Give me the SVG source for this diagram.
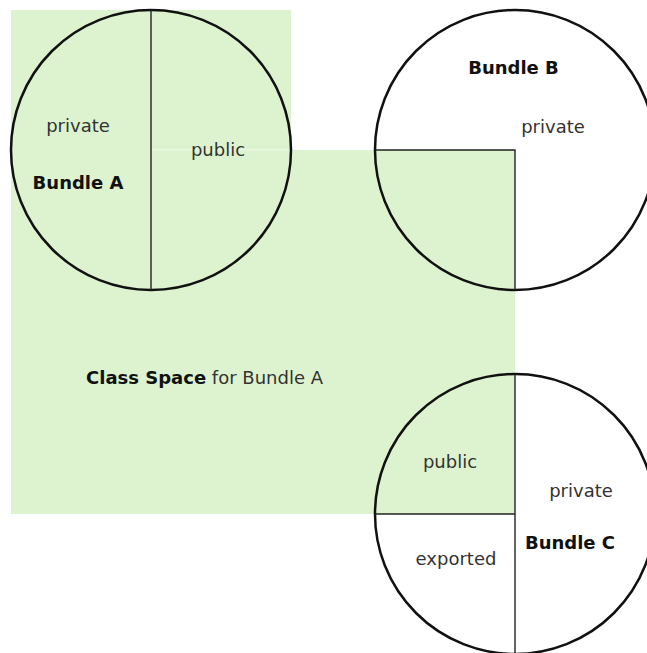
<svg xmlns="http://www.w3.org/2000/svg" width="647" height="653" viewBox="0 0 647 653">
<style>
.circle{fill:none;stroke:#111;stroke-width:2.5}
.div{stroke:#222;stroke-width:1.4;fill:none}
.t{font-family:"DejaVu Sans",sans-serif;font-size:18px;fill:#333}
.b{font-weight:bold;fill:#111}
</style>
<rect width="647" height="653" fill="#fff"/>
<g id="classSpace">
<path d="M11 10 H291 V150 H515 V514 H11 Z" fill="#ddf3cf"/>
<line x1="152" y1="150" x2="291" y2="150" stroke="#ecf8e4" stroke-width="1"/>
<text class="t" x="86" y="384"><tspan class="b">Class Space</tspan> for Bundle A</text>
</g>
<g id="bundleA">
<circle class="circle" cx="151" cy="150" r="140"/>
<line class="div" x1="151" y1="10" x2="151" y2="290"/>
<text class="t" x="78" y="132" text-anchor="middle">private</text>
<text class="t b" x="78" y="189" text-anchor="middle">Bundle A</text>
<text class="t" x="218" y="156" text-anchor="middle">public</text>
</g>
<g id="bundleB">
<circle class="circle" cx="515" cy="150" r="140"/>
<path class="div" d="M375 150 H515 V290"/>
<text class="t b" x="513.5" y="74" text-anchor="middle">Bundle B</text>
<text class="t" x="553" y="133" text-anchor="middle">private</text>
</g>
<g id="bundleC">
<circle class="circle" cx="515" cy="514" r="140"/>
<line class="div" x1="515" y1="374" x2="515" y2="654"/>
<line class="div" x1="375" y1="514" x2="515" y2="514"/>
<text class="t" x="450" y="468" text-anchor="middle">public</text>
<text class="t" x="581" y="497" text-anchor="middle">private</text>
<text class="t b" x="570" y="549" text-anchor="middle">Bundle C</text>
<text class="t" x="456" y="565" text-anchor="middle">exported</text>
</g>
</svg>
